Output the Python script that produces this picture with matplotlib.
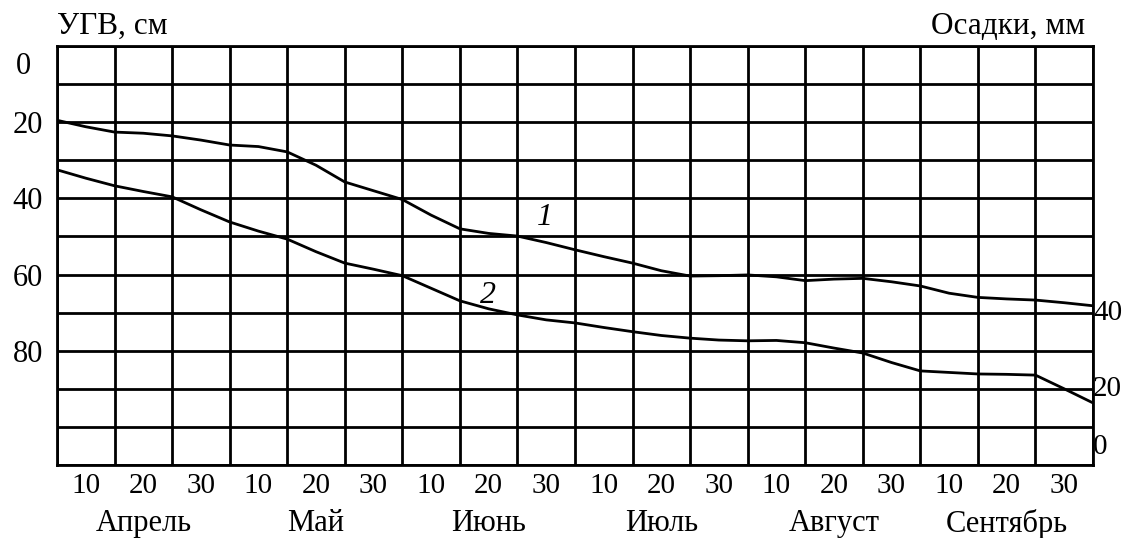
import matplotlib.pyplot as plt
import matplotlib.transforms as mtransforms

plt.rcParams['font.family'] = ['Liberation Serif', 'DejaVu Serif']

# x in decades from 1 April (0..18), step of 5 days
days = [i * 0.5 for i in range(37)]
ugv_1 = [19.5, 21.2, 22.6, 22.9, 23.6, 24.7, 26.0, 26.4, 27.8, 31.3,
         35.7, 38.0, 40.3, 44.4, 48.0, 49.2, 49.9, 51.6, 53.5, 55.3,
         57.0, 59.0, 60.4, 60.3, 60.1, 60.6, 61.6, 61.2, 61.0, 61.9,
         63.0, 64.9, 66.0, 66.4, 66.7, 67.4, 68.2]
ugv_2 = [32.5, 34.7, 36.7, 38.2, 39.6, 43.0, 46.2, 48.6, 50.7, 54.0,
         57.0, 58.6, 60.3, 63.6, 66.9, 69.0, 70.6, 71.9, 72.7, 73.9,
         75.0, 76.0, 76.7, 77.2, 77.4, 77.3, 77.9, 79.3, 80.6, 83.1,
         85.3, 85.7, 86.1, 86.2, 86.4, 90.0, 93.7]
months = ['Апрель', 'Май', 'Июнь', 'Июль', 'Август', 'Сентябрь']
decades = ['10', '20', '30']
left_ticks = [20, 40, 60, 80]
right_ticks = [40, 20, 0]
right_pos = [70, 90, 105.3]

fig = plt.figure(figsize=(11.24, 5.38), dpi=100)
ax = fig.add_axes([57 / 1124, 73 / 538, 1036 / 1124, 419 / 538])

for ys in (ugv_1, ugv_2):
    ax.plot(days, ys, color='black', lw=2.0, solid_joinstyle='round')
ax.text(8.48, 45.1, '1', style='italic', fontsize=23, ha='center', va='center')
ax.text(7.49, 65.4, '2', style='italic', fontsize=23, ha='center', va='center')

ax.set_xlim(0, 18)
ax.set_ylim(110, 0)
ax.set_xticks(range(19))
ax.set_xticks([c + 0.5 for c in range(18)], minor=True)
ax.set_xticklabels([])
ax.set_xticklabels(decades * 6, minor=True, fontsize=21)
ax.set_yticks(range(0, 111, 10))
ax.set_yticklabels([str(v) if v in left_ticks else '' for v in range(0, 111, 10)],
                   fontsize=22)
ax.tick_params(axis='both', which='both', length=0)
ax.tick_params(axis='x', which='minor', pad=6)
ax.tick_params(axis='y', pad=10)
ax.grid(True, which='major', color='black', lw=2.0)
for s in ax.spines.values():
    s.set_linewidth(2.0)

# "0" on the left sits a bit below the top line
ax.text(-0.58, 5.5, '0', fontsize=22, ha='center', va='center')

# right scale (precipitation)
for lab, yv in zip(right_ticks, right_pos):
    ax.text(18.0, yv, str(lab), fontsize=21, ha='left', va='center')

trans = mtransforms.blended_transform_factory(ax.transData, ax.transAxes)
for i, m in enumerate(months):
    ax.text(3 * i + 1.5, -0.14, m, transform=trans, fontsize=22,
            ha='center', va='center')

fig.text(57 / 1124, 1 - 26 / 538, 'УГВ, см', fontsize=22.5, ha='left', va='center')
fig.text(1085 / 1124, 1 - 26 / 538, 'Осадки, мм', fontsize=22.5, ha='right', va='center')

fig.savefig('out.png', dpi=100)
